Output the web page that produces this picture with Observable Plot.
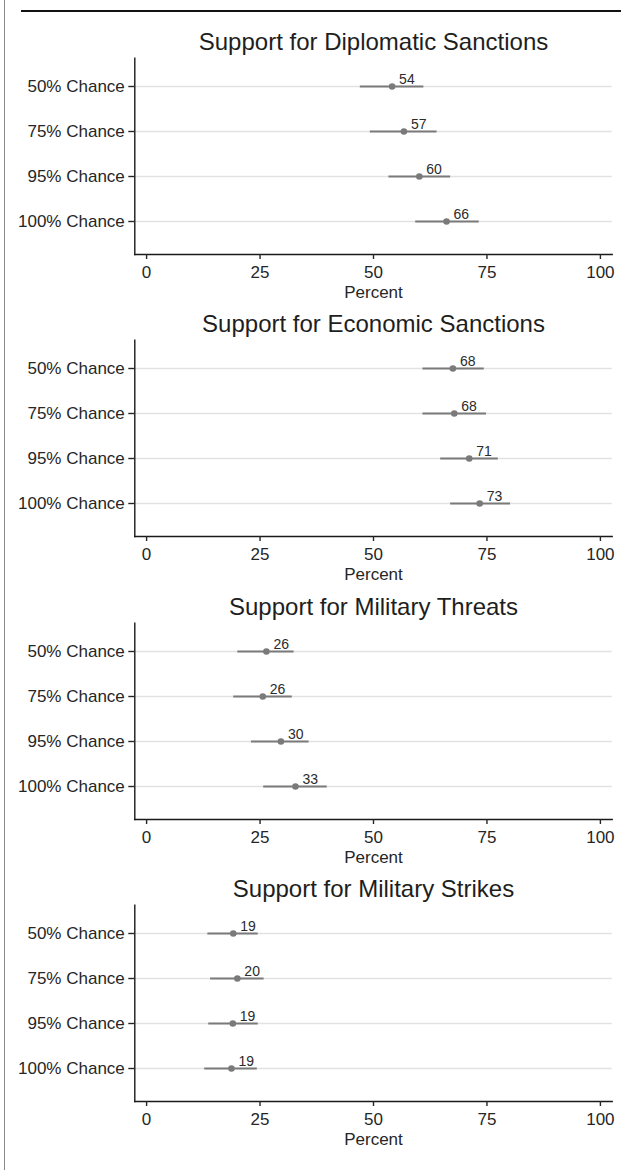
<!DOCTYPE html>
<html>
<head>
<meta charset="utf-8">
<script src="https://cdn.jsdelivr.net/npm/d3@7"></script>
<script src="https://cdn.jsdelivr.net/npm/@observablehq/plot@0.6"></script>
<style>
  html, body { margin: 0; padding: 0; background: #fff; }
  #wrap { position: relative; width: 621px; height: 1170px; overflow: hidden; font-family: "Liberation Sans", Arial, sans-serif; }
  #leftline { position: absolute; left: 4px; top: 0; width: 1px; height: 1170px; background: #8a8a8a; }
  #topline { position: absolute; left: 21px; top: 10px; width: 600px; height: 2px; background: #111; }
  .panel { position: absolute; left: 0; }
</style>
</head>
<body>
<div id="wrap">
  <div id="leftline"></div>
  <div id="topline"></div>
</div>
<script>
const categories = ["50% Chance", "75% Chance", "95% Chance", "100% Chance"];
const titles = [
  "Support for Diplomatic Sanctions",
  "Support for Economic Sanctions",
  "Support for Military Threats",
  "Support for Military Strikes"
];
const xTicks = [0, 25, 50, 75, 100];

// Point estimates and interval ends (percent), one entry per category
const diplomaticEst = [54.1, 56.7, 60.1, 66.1];
const diplomaticLo  = [47.1, 49.3, 53.4, 59.3];
const diplomaticHi  = [61.1, 64.0, 67.0, 73.3];

const economicEst = [67.5, 67.8, 71.1, 73.4];
const economicLo  = [60.9, 60.9, 64.8, 67.0];
const economicHi  = [74.4, 74.9, 77.5, 80.2];

const threatsEst = [26.4, 25.6, 29.6, 32.8];
const threatsLo  = [20.1, 19.2, 23.1, 25.8];
const threatsHi  = [32.5, 32.1, 35.8, 39.8];

const strikesEst = [19.1, 20.0, 19.0, 18.7];
const strikesLo  = [13.5, 14.1, 13.7, 12.8];
const strikesHi  = [24.6, 25.9, 24.6, 24.4];

const labels = [
  [54, 57, 60, 66],
  [68, 68, 71, 73],
  [26, 26, 30, 33],
  [19, 20, 19, 19]
];

const series = [
  [diplomaticEst, diplomaticLo, diplomaticHi],
  [economicEst, economicLo, economicHi],
  [threatsEst, threatsLo, threatsHi],
  [strikesEst, strikesLo, strikesHi]
];

const W = 621, H = 282.5, TOP0 = 22.5;
const mTop = 34.8, mBottom = 51.5, mLeft = 134.3, mRight = 9.3;
const pointColor = "#7a7a7a";
const inkColor = "#262626";

const wrap = document.getElementById("wrap");

series.forEach(([est, lo, hi], i) => {
  const rows = categories.map((c, j) => ({cat: c, est: est[j], lo: lo[j], hi: hi[j], label: String(labels[i][j])}));
  const chart = Plot.plot({
    width: W,
    height: H,
    marginTop: mTop,
    marginBottom: mBottom,
    marginLeft: mLeft,
    marginRight: mRight,
    style: {fontFamily: '"Liberation Sans", Arial, sans-serif', background: "transparent", overflow: "visible"},
    x: {domain: [-2.6, 102.6]},
    y: {type: "point", domain: categories, padding: 0, range: [mTop + 27.3, mTop + 164.3]},
    marks: [
      Plot.ruleY(categories, {y: d => d, stroke: "#e2e2e2", strokeWidth: 1.3}),
      Plot.ruleY(rows, {y: "cat", x1: "lo", x2: "hi", stroke: pointColor, strokeWidth: 2}),
      Plot.dot(rows, {y: "cat", x: "est", r: 3.3, fill: pointColor, stroke: "none"}),
      Plot.text(rows, {y: "cat", x: "est", text: "label", dx: 7, dy: -3, textAnchor: "start", lineAnchor: "bottom", fontSize: 14, fill: "#2b2b2b"}),
      Plot.frame({anchor: "left", stroke: "#1a1a1a", strokeWidth: 1.4}),
      Plot.frame({anchor: "bottom", stroke: "#1a1a1a", strokeWidth: 1.4}),
      Plot.axisY({domain: categories, tickSize: 6, tickPadding: 4, fontSize: 17, color: inkColor, strokeWidth: 1.4, label: null}),
      Plot.axisX({ticks: xTicks, tickSize: 5, tickPadding: 6, fontSize: 17, color: inkColor, strokeWidth: 1.4, tickFormat: d => String(d), label: null}),
      Plot.text([titles[i]], {frameAnchor: "top", dy: -8.3, lineAnchor: "bottom", textAnchor: "middle", fontSize: 24, fill: "#1e1e1e"}),
      Plot.text(["Percent"], {frameAnchor: "bottom", dy: 43.5, lineAnchor: "bottom", textAnchor: "middle", fontSize: 17, fill: inkColor})
    ]
  });
  const div = document.createElement("div");
  div.className = "panel";
  div.style.top = (TOP0 + i * H) + "px";
  div.appendChild(chart);
  wrap.appendChild(div);
});
</script>
</body>
</html>
